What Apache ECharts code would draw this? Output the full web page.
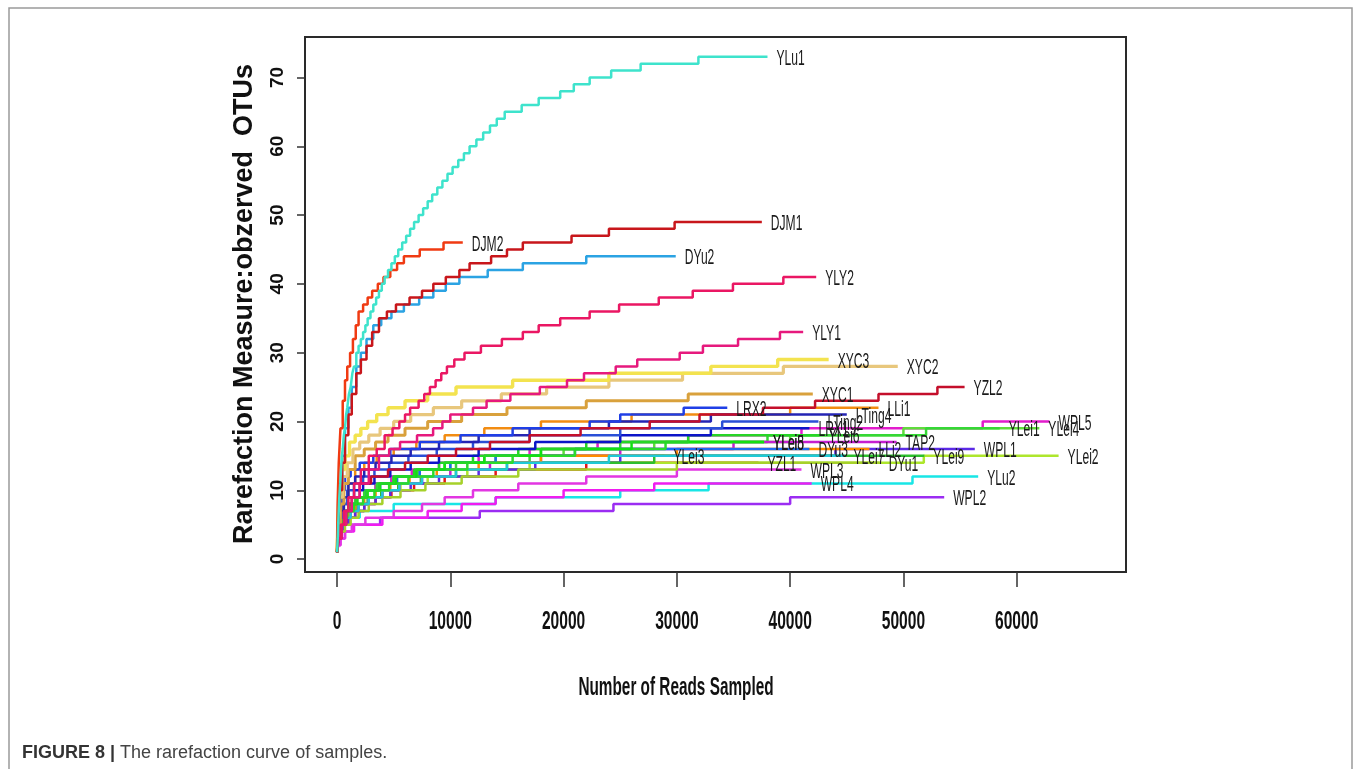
<!DOCTYPE html>
<html>
<head>
<meta charset="utf-8">
<script src="https://cdn.jsdelivr.net/npm/echarts@6/dist/echarts.min.js"></script>
<style>
  html, body { margin: 0; padding: 0; background: #ffffff; }
  #chart { width: 1360px; height: 769px; }
</style>
</head>
<body>
<div id="chart"></div>
<script>
// Rarefaction curves: [reads sampled, observed OTUs] at each step of the curve
const YLu1 = [[0,1],[60,3],[100,5],[150,7],[200,9],[280,11],[350,13],[420,15],[500,16],[600,18],[700,19],[800,21],[900,22],[1050,24],[1200,25],[1350,27],[1500,28],[1700,30],[1900,31],[2100,32],[2300,33],[2500,34],[2700,35],[2950,36],[3200,37],[3450,38],[3700,39],[3950,40],[4200,41],[4500,42],[4800,43],[5100,44],[5400,45],[5750,46],[6100,47],[6450,48],[6800,49],[7200,50],[7600,51],[8000,52],[8400,53],[8850,54],[9300,55],[9750,56],[10200,57],[10700,58],[11200,59],[11700,60],[12300,61],[12900,62],[13500,63],[14100,64],[14800,65],[16300,66],[17800,67],[19700,68],[20900,69],[22300,70],[24200,71],[26800,72],[31900,73],[38000,73]];
const DJM2 = [[0,1],[50,8],[150,14],[300,19],[500,23],[700,26],[900,28],[1150,30],[1400,32],[1650,34],[1900,36],[2300,37],[2700,38],[3100,39],[3600,40],[4100,41],[4700,42],[5300,43],[5900,44],[7300,45],[9400,46],[11100,46]];
const DJM1 = [[0,1],[100,5],[250,10],[450,14],[700,18],[1000,21],[1300,24],[1700,27],[2100,29],[2600,31],[3100,33],[3700,35],[4400,36],[5200,37],[6400,38],[7500,39],[8500,40],[9600,41],[10800,42],[11700,43],[13600,44],[15000,45],[16400,46],[20700,47],[24000,48],[29800,49],[37500,49]];
const DYu2 = [[0,1],[100,6],[250,11],[450,15],[700,19],[1000,22],[1300,25],[1700,28],[2100,30],[2600,32],[3200,34],[3900,35],[4800,36],[5900,37],[7250,38],[8500,39],[9600,40],[10800,41],[13300,42],[16400,43],[22000,44],[29900,44]];
const YLY2 = [[0,1],[100,3],[300,5],[600,7],[1000,9],[1500,11],[2100,13],[2800,15],[3500,16],[4200,18],[4900,19],[5500,20],[6000,21],[6450,22],[7200,23],[7700,24],[8200,25],[8700,26],[9200,27],[9700,28],[10350,29],[11250,30],[12700,31],[14550,32],[16400,33],[17800,34],[19700,35],[22300,36],[24900,37],[28400,38],[31400,39],[34950,40],[39400,41],[42300,41]];
const YLY1 = [[0,1],[150,3],[400,5],[800,7],[1300,9],[2000,11],[2800,13],[3700,15],[4600,16],[5560,17],[7060,18],[8480,19],[9300,20],[10000,21],[12000,22],[13200,23],[15300,24],[17900,25],[20300,26],[21800,27],[24600,28],[26500,29],[30250,30],[32300,31],[35400,32],[39100,33],[41150,33]];
const XYC3 = [[0,1],[80,6],[200,10],[400,13],[700,15],[1100,17],[1600,18],[2100,19],[2700,20],[3500,21],[4500,22],[6000,23],[8000,24],[10500,25],[15500,26],[24000,27],[33000,28],[38900,29],[43400,29]];
const XYC2 = [[0,1],[100,5],[250,9],[500,12],[900,14],[1400,16],[2000,17],[2800,18],[3800,19],[5000,20],[6500,21],[8500,22],[11000,23],[14500,24],[18500,25],[24000,26],[30500,27],[39400,28],[49500,28]];
const XYC1 = [[0,1],[100,4],[300,8],[600,11],[1000,13],[1600,15],[2400,16],[3400,17],[4500,18],[6000,19],[8000,20],[11000,21],[15000,22],[22000,23],[31000,24],[42000,24]];
const YZL2 = [[0,1],[150,3],[400,5],[800,7],[1300,9],[2000,11],[3000,12],[4500,13],[6000,14],[8000,15],[10500,16],[13500,17],[17000,18],[21500,19],[27600,20],[32000,21],[37600,22],[42200,23],[47800,24],[53000,25],[55400,25]];
const LRX2 = [[0,1],[80,5],[200,8],[400,10],[700,12],[1200,13],[2000,14],[3200,15],[4700,16],[7300,17],[10900,18],[15500,19],[22300,20],[25000,21],[30600,22],[34450,22]];
const LTing4 = [[0,1],[100,4],[300,7],[600,9],[1000,11],[1600,12],[2400,13],[3400,14],[4800,15],[6500,16],[9000,17],[12500,18],[17000,19],[24000,20],[33000,21],[45000,21]];
const LLi1 = [[0,1],[100,4],[300,7],[600,9],[1000,11],[1600,13],[2400,14],[3500,15],[5000,16],[7000,17],[9500,18],[13000,19],[18000,20],[26000,21],[40000,22],[47800,22]];
const LTing2 = [[0,1],[100,4],[250,6],[500,8],[900,10],[1500,11],[2300,12],[3300,13],[4600,14],[6300,15],[8800,16],[12000,17],[17000,18],[25000,19],[34000,20],[42500,20]];
const LRX1 = [[0,1],[100,4],[250,6],[500,8],[900,9],[1500,10],[2300,11],[3300,12],[4700,13],[6500,14],[9000,15],[12500,16],[17500,17],[25000,18],[33000,19],[41700,19]];
const YLei6 = [[0,1],[100,3],[300,5],[600,7],[1000,8],[1700,9],[2600,10],[3700,11],[5000,12],[6800,13],[9000,14],[12000,15],[16000,16],[22000,17],[31000,18],[42600,18]];
const YLei5 = [[0,1],[100,3],[300,5],[600,7],[1100,8],[1800,9],[2700,10],[3800,11],[5200,12],[7000,13],[9500,14],[13000,15],[18000,16],[26000,17],[37700,17]];
const YLei8 = [[0,1],[100,3],[250,5],[500,6],[900,7],[1500,8],[2300,9],[3300,10],[4600,11],[6300,12],[8500,13],[11500,14],[15500,15],[21000,16],[29000,17],[37700,17]];
const DYu3 = [[0,1],[100,3],[300,5],[600,7],[1000,8],[1700,9],[2600,10],[3800,11],[5300,12],[7300,13],[10000,14],[14000,15],[21000,16],[41700,16]];
const YLei7 = [[0,1],[100,3],[300,5],[700,6],[1200,7],[1900,8],[2800,9],[4000,10],[5500,11],[7500,12],[10500,13],[15000,14],[24000,15],[44800,15]];
const LLi2 = [[0,1],[100,3],[300,5],[600,6],[1000,7],[1600,8],[2400,9],[3400,10],[4700,11],[6400,12],[8800,13],[12500,14],[18000,15],[30000,16],[47000,16]];
const TAP2 = [[0,1],[100,3],[300,5],[700,6],[1200,7],[1900,8],[2800,9],[4000,10],[5500,11],[7500,12],[10000,13],[13500,14],[18000,15],[25000,16],[35000,17],[49400,17]];
const DYu1 = [[0,1],[100,3],[300,4],[700,5],[1200,6],[1900,7],[2800,8],[4000,9],[5600,10],[7800,11],[11000,12],[16000,13],[30000,14],[47900,14]];
const YLei9 = [[0,1],[100,3],[300,5],[700,6],[1200,7],[1800,8],[2700,9],[3900,10],[5400,11],[7400,12],[10500,13],[15000,14],[28000,15],[51850,15]];
const WPL1 = [[0,1],[100,3],[300,4],[600,5],[1000,6],[1600,7],[2400,8],[3400,9],[4700,10],[6500,11],[9000,12],[12500,13],[17500,14],[25000,15],[44000,16],[56300,16]];
const YLei2 = [[0,1],[100,3],[300,5],[700,6],[1200,7],[1900,8],[2800,9],[4000,10],[5600,11],[8000,12],[11500,13],[17000,14],[51800,15],[63700,15]];
const YLei1 = [[0,1],[100,3],[300,5],[600,7],[1000,8],[1600,9],[2400,10],[3500,11],[5000,12],[7000,13],[9500,14],[13000,15],[18000,16],[25000,17],[38000,18],[52000,19],[58500,19]];
const YLei4 = [[0,1],[100,3],[250,5],[550,7],[1000,8],[1600,9],[2500,10],[3700,11],[5200,12],[7200,13],[10000,14],[14000,15],[20000,16],[28000,17],[40000,18],[50000,19],[62000,19]];
const WPL5 = [[0,1],[100,3],[300,5],[600,7],[1000,8],[1600,9],[2400,10],[3400,11],[4800,12],[6600,13],[9000,14],[12500,15],[17000,16],[23000,17],[31000,18],[41000,19],[57000,20],[62900,20]];
const YLei3 = [[0,1],[100,3],[300,5],[600,7],[1000,8],[1600,9],[2400,10],[3400,11],[4800,12],[7000,13],[10500,14],[17000,15],[28900,15]];
const YZL1 = [[0,1],[100,3],[300,4],[600,5],[1000,6],[1600,7],[2400,8],[3400,9],[4800,10],[6800,11],[9500,12],[14000,13],[22000,14],[37200,14]];
const WPL3 = [[0,1],[100,2],[300,3],[700,4],[1300,5],[2500,6],[5000,7],[7500,8],[9500,9],[12000,10],[16000,11],[22000,12],[30000,13],[41000,13]];
const WPL4 = [[0,1],[100,2],[300,3],[700,4],[1500,5],[4000,6],[8000,7],[11000,8],[14000,9],[20000,10],[28000,11],[41900,11]];
const YLu2 = [[0,1],[60,2],[150,3],[300,4],[600,5],[1100,6],[2000,7],[5000,8],[14000,9],[25000,10],[32800,11],[50800,12],[56600,12]];
const WPL2 = [[0,1],[50,2],[150,3],[300,4],[500,5],[3800,6],[12600,7],[24400,8],[40000,9],[53600,9]];

// Sample names in drawing order (later ones are drawn on top)
const sampleNames = ['WPL2','YLu2','WPL4','WPL3','YZL1','YLei3','WPL5','YLei4','YLei1','YLei2','WPL1','YLei9','DYu1','TAP2','LLi2','YLei7','DYu3','YLei8','YLei5','YLei6','LRX1','LTing2','LLi1','LTing4','LRX2','YZL2','XYC1','XYC2','XYC3','YLY1','YLY2','DYu2','DJM1','DJM2','YLu1'];
const curves = {WPL2, YLu2, WPL4, WPL3, YZL1, YLei3, WPL5, YLei4, YLei1, YLei2, WPL1, YLei9, DYu1, TAP2, LLi2, YLei7, DYu3, YLei8, YLei5, YLei6, LRX1, LTing2, LLi1, LTing4, LRX2, YZL2, XYC1, XYC2, XYC3, YLY1, YLY2, DYu2, DJM1, DJM2, YLu1};

// Axis ticks and captions
const xTicks = [0, 10000, 20000, 30000, 40000, 50000, 60000];
const yTicks = [0, 10, 20, 30, 40, 50, 60, 70];
const xTitle = 'Number of Reads Sampled';
const yTitle = 'Rarefaction Measure:obzerved  OTUs';
const captionBold = 'FIGURE 8 |';
const captionText = 'The rarefaction curve of samples.';

// Line colours per sample
const lineColors = {
  YLu1: '#3ee3cc', DJM1: '#c8161b', DJM2: '#f03a12', DYu2: '#2ba3e3', YLY2: '#ea1763', YLY1: '#e6197d',
  XYC3: '#f3e34f', XYC2: '#e8c77c', XYC1: '#d9a13c', YZL2: '#c40f2b', LRX2: '#1f3fe6', LTing4: '#2424b4',
  LLi1: '#f28c12', LTing2: '#2a4fd6', LRX1: '#0c14c8', YLei6: '#26d626', YLei5: '#12e012', YLei8: '#2bdb2b',
  DYu3: '#1e6af0', YLei7: '#1fc9d6', LLi2: '#ff8a00', TAP2: '#c51fd0', DYu1: '#a6d12a', YLei9: '#2dbf2d',
  WPL1: '#5b2ae6', YLei2: '#aee62c', YLei1: '#35d835', YLei4: '#5fdc3c', WPL5: '#e21ccc', YLei3: '#3ccf3c',
  YZL1: '#e41a1c', WPL3: '#e236e2', WPL4: '#f01cf0', YLu2: '#18e6e6', WPL2: '#9b2cf2'
};
const wideLines = { XYC3: 3.4, XYC2: 3.2, XYC1: 3 };

const chart = echarts.init(document.getElementById('chart'), null, { renderer: 'canvas' });

const series = sampleNames.map(name => ({
  name: name,
  type: 'line',
  step: 'end',
  data: curves[name],
  showSymbol: false,
  symbol: 'none',
  silent: true,
  lineStyle: { color: lineColors[name], width: wideLines[name] || 2.5 },
  emphasis: { disabled: true }
}));

chart.setOption({
  animation: false,
  backgroundColor: '#ffffff',
  grid: { left: 305, top: 37, width: 821, height: 535, show: true, borderColor: '#2a2a2a', borderWidth: 2, backgroundColor: 'transparent' },
  xAxis: {
    type: 'value', min: -2830, max: 69650,
    axisLine: { show: false, onZero: false },
    axisTick: { show: true, customValues: xTicks, length: 15, lineStyle: { color: '#333333', width: 1.5 } },
    axisLabel: { show: false, customValues: xTicks },
    splitLine: { show: false }
  },
  yAxis: {
    type: 'value', min: -1.88, max: 75.88,
    axisLine: { show: false, onZero: false },
    axisTick: { show: true, customValues: yTicks, length: 8, lineStyle: { color: '#333333', width: 1.5 } },
    axisLabel: { show: false, customValues: yTicks },
    splitLine: { show: false }
  },
  series: series
});

// Text drawn as graphics so it can take the narrow, tall lettering
const toPx = (x, y) => chart.convertToPixel({ gridIndex: 0 }, [x, y]);
const gfx = [];

// Outer frame of the figure
gfx.push({ type: 'rect', silent: true, shape: { x: 9, y: 8, width: 1343, height: 800 },
  style: { fill: 'none', stroke: '#9a9a9a', lineWidth: 1.5 } });

xTicks.forEach(v => {
  const p = toPx(v, 0);
  gfx.push({ type: 'text', silent: true, x: p[0], y: 622, scaleX: 0.6,
    style: { text: String(v), font: 'bold 26px "Liberation Sans", Arial, sans-serif', fill: '#111111',
      align: 'center', verticalAlign: 'middle', textAlign: 'center', textVerticalAlign: 'middle' } });
});

yTicks.forEach(v => {
  const p = toPx(0, v);
  gfx.push({ type: 'text', silent: true, x: 278, y: p[1], rotation: Math.PI / 2,
    style: { text: String(v), font: 'bold 19px "Liberation Sans", Arial, sans-serif', fill: '#111111',
      align: 'center', verticalAlign: 'middle', textAlign: 'center', textVerticalAlign: 'middle' } });
});

gfx.push({ type: 'text', silent: true, x: 676, y: 688, scaleX: 0.59,
  style: { text: xTitle, font: 'bold 26px "Liberation Sans", Arial, sans-serif', fill: '#111111',
    align: 'center', verticalAlign: 'middle', textAlign: 'center', textVerticalAlign: 'middle' } });

gfx.push({ type: 'text', silent: true, x: 245, y: 304, rotation: Math.PI / 2,
  style: { text: yTitle, font: 'bold 27px "Liberation Sans", Arial, sans-serif', fill: '#111111',
    align: 'center', verticalAlign: 'middle', textAlign: 'center', textVerticalAlign: 'middle' } });

// Sample name at the end of each curve
sampleNames.forEach(name => {
  const pts = curves[name];
  const last = pts[pts.length - 1];
  const p = toPx(last[0], last[1]);
  gfx.push({ type: 'text', silent: true, x: p[0] + 9, y: p[1] + 2, scaleX: 0.55, z: 100,
    style: { text: name, font: '22px "Liberation Sans", Arial, sans-serif', fill: '#1a1a1a',
      align: 'left', verticalAlign: 'middle', textAlign: 'left', textVerticalAlign: 'middle' } });
});

// Figure caption
gfx.push({ type: 'text', silent: true, x: 22, y: 753,
  style: { text: '{b|' + captionBold + '} {n|' + captionText + '}',
    font: '18px "Liberation Sans", Arial, sans-serif', verticalAlign: 'middle', textVerticalAlign: 'middle',
    rich: {
      b: { fontFamily: '"Liberation Sans", Arial, sans-serif', fontWeight: 'bold', fontSize: 18, fill: '#333333', color: '#333333' },
      n: { fontFamily: '"Liberation Sans", Arial, sans-serif', fontSize: 18, fill: '#444444', color: '#444444' }
    } } });

chart.setOption({ graphic: gfx });
</script>
</body>
</html>
